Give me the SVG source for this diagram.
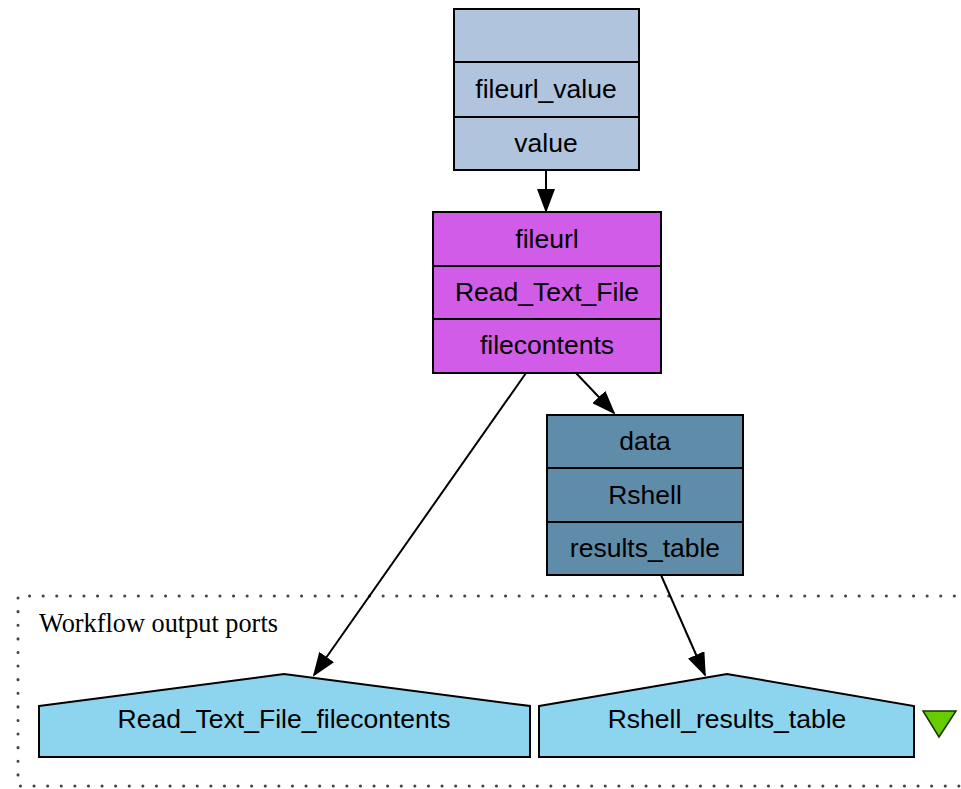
<svg xmlns="http://www.w3.org/2000/svg" width="961" height="789" viewBox="0 0 961 789">
<defs>
<style>
.box{stroke:#000;stroke-width:2}
.sep{stroke:#000;stroke-width:2}
.t{font-family:"Liberation Sans",Arial,sans-serif;font-size:26.5px;fill:#000;text-anchor:middle}
.edge{stroke:#000;stroke-width:2;fill:none}
.cl{fill:none;stroke:#444;stroke-width:3;stroke-dasharray:0.1,13.5;stroke-linecap:round}
</style>
<marker id="ah" markerWidth="24" markerHeight="18" refX="22" refY="9" orient="auto" markerUnits="userSpaceOnUse">
<path d="M0,0 L24,9 L0,18 Z" fill="#000"/>
</marker>
</defs>
<rect width="961" height="789" fill="#fff"/>
<g id="cluster">
<path class="cl" d="M968,596 L18,596 L18,786 L968,786"/>
<text x="39" y="632" style="font-family:'Liberation Serif','Times New Roman',serif;font-size:26.3px;fill:#000">Workflow output ports</text>
</g>
<g id="connectors">
<line class="edge" x1="546" y1="170" x2="546" y2="211" marker-end="url(#ah)"/>
<line class="edge" x1="526" y1="373" x2="314" y2="675" marker-end="url(#ah)"/>
<line class="edge" x1="576" y1="373" x2="614" y2="413" marker-end="url(#ah)"/>
<line class="edge" x1="661" y1="575" x2="705" y2="675" marker-end="url(#ah)"/>
</g>
<g id="fileurl_value">
<rect class="box" x="454" y="9" width="185" height="161" fill="#b0c4de"/>
<line class="sep" x1="454" y1="62" x2="639" y2="62"/>
<line class="sep" x1="454" y1="117" x2="639" y2="117"/>
<text class="t" x="546" y="98">fileurl_value</text>
<text class="t" x="546" y="152">value</text>
</g>
<g id="Read_Text_File">
<rect class="box" x="433" y="212" width="228" height="161" fill="#d05ce8"/>
<line class="sep" x1="433" y1="266" x2="661" y2="266"/>
<line class="sep" x1="433" y1="319" x2="661" y2="319"/>
<text class="t" x="547" y="248">fileurl</text>
<text class="t" x="547" y="301">Read_Text_File</text>
<text class="t" x="547" y="354">filecontents</text>
</g>
<g id="Rshell">
<rect class="box" x="547" y="415" width="196" height="160" fill="#5f8ca8"/>
<line class="sep" x1="547" y1="468" x2="743" y2="468"/>
<line class="sep" x1="547" y1="522" x2="743" y2="522"/>
<text class="t" x="645" y="450">data</text>
<text class="t" x="645" y="504">Rshell</text>
<text class="t" x="645" y="557">results_table</text>
</g>
<g id="Read_Text_File_filecontents">
<polygon class="box" points="39,706 284,674 530,706 530,757 39,757" fill="#8dd4ee"/>
<text class="t" x="284" y="728">Read_Text_File_filecontents</text>
</g>
<g id="Rshell_results_table">
<polygon class="box" points="539,706 727,674 914,706 914,757 539,757" fill="#8dd4ee"/>
<text class="t" x="727" y="728">Rshell_results_table</text>
</g>
<g id="toggle">
<polygon points="923,711 956,711 939,737" fill="#66cc00" stroke="#1a3300" stroke-width="1.5"/>
</g>
</svg>
